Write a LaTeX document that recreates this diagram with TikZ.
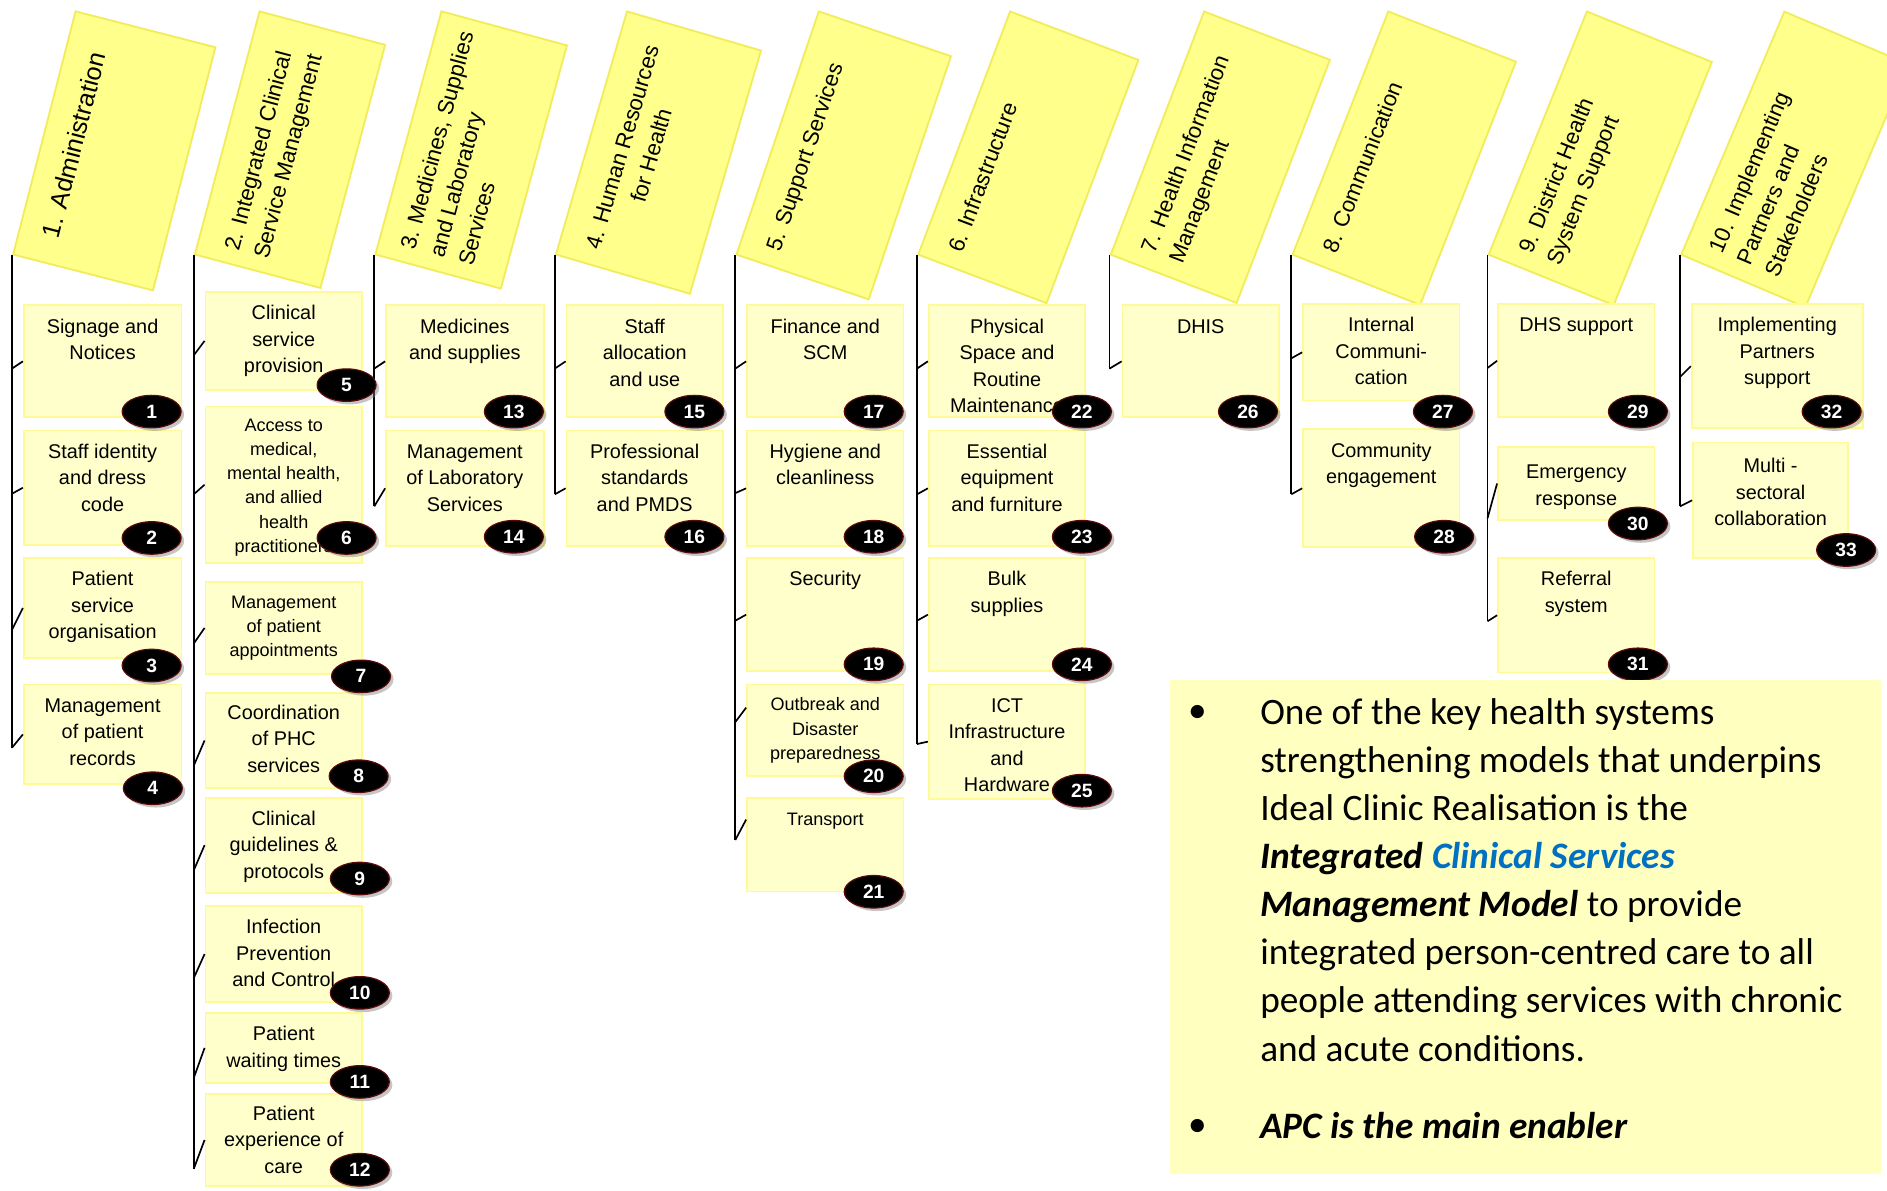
\documentclass[tikz,border=0pt]{standalone}
\usepackage{fontspec}
\setmainfont{Liberation Sans}
\newfontfamily\calfont{Carlito}
\usetikzlibrary{shapes.geometric,shadows,calc}

\definecolor{hdrfill}{RGB}{255,255,140}
\definecolor{hdrline}{RGB}{242,236,90}
\definecolor{boxfill}{RGB}{255,255,204}
\definecolor{boxline}{RGB}{255,250,150}
\definecolor{notefill}{RGB}{255,255,192}
\definecolor{numline}{RGB}{90,10,10}
\definecolor{keyblue}{RGB}{0,112,192}

% cell text: [first line height]{box height}{box width}{lines}
\newcommand{\cell}[4][23]{\parbox[t][#2pt][t]{#3pt}{\centering\rule{0pt}{#1pt}#4}}

\tikzset{
  hdr/.style={draw=hdrline, fill=hdrfill, line width=1.5pt, anchor=south west, inner sep=0pt},
  htext/.style={anchor=north west, inner sep=0pt, align=left, font=\fontsize{18.5}{25}\selectfont},
  item/.style={draw=boxline, fill=boxfill, line width=1.5pt, anchor=north west, inner sep=0pt, font=\fontsize{16.5}{22}\selectfont},
  small/.style={font=\fontsize{15}{20}\selectfont},
  num/.style={ellipse, fill=black, draw=numline, line width=1pt, minimum width=49, minimum height=27, inner sep=0pt, text=white,
    font=\bfseries\fontsize{16}{16}\selectfont, drop shadow={shadow xshift=2.5pt, shadow yshift=-2.5pt, opacity=0.45}},
  spine/.style={draw=black, line width=1.4pt},
  notetext/.style={anchor=north west, inner sep=0pt, align=left, font=\calfont\fontsize{31}{40}\selectfont},
  dot/.style={inner sep=0pt, font=\calfont\fontsize{31}{40}\selectfont}
}

\begin{document}
\begin{tikzpicture}[x=1pt, y=1pt]
        \path[use as bounding box, fill=white] (0,0) rectangle (1568,-989);

        % headers
        \node[hdr, rotate=-14.4, minimum width=120, minimum height=208.6] (h1) at (10,-212) {};
        \node[htext, rotate=75.6, font=\fontsize{21}{25}\selectfont] (ht1) at ($(h1.south west)+(75.6:22)+(-14.4:19)$) {1. Administration};
        \node[hdr, rotate=-14.9, minimum width=108, minimum height=209.0] (h2) at (161,-212) {};
        \node[htext, rotate=75.1] (ht2) at ($(h2.south west)+(75.1:12)+(-14.9:22)$) {2. Integrated Clinical\\Service Management};
        \node[hdr, rotate=-15.2, minimum width=108, minimum height=209.4] (h3) at (311,-212) {};
        \node[htext, rotate=74.8] (ht3) at ($(h3.south west)+(74.8:12)+(-15.2:18)$) {3. Medicines, Supplies\\and Laboratory\\Services};
        \node[hdr, rotate=-16.3, minimum width=116, minimum height=210.5] (h4) at (461,-212) {};
        \node[htext, rotate=73.7, align=center] (ht4) at ($(h4.south west)+(73.7:14)+(-16.3:22)$) {4. Human Resources\\for Health};
        \node[hdr, rotate=-18.7, minimum width=116, minimum height=213.3] (h5) at (611,-212) {};
        \node[htext, rotate=71.3] (ht5) at ($(h5.south west)+(71.3:14)+(-18.7:21)$) {5. Support Services};
        \node[hdr, rotate=-20.7, minimum width=114, minimum height=216.0] (h6) at (762,-212) {};
        \node[htext, rotate=69.3] (ht6) at ($(h6.south west)+(69.3:14)+(-20.7:21)$) {6. Infrastructure};
        \node[hdr, rotate=-21, minimum width=112, minimum height=216.4] (h7) at (922,-212) {};
        \node[htext, rotate=69] (ht7) at ($(h7.south west)+(69:14)+(-21:21)$) {7. Health Information\\Management};
        \node[hdr, rotate=-21.5, minimum width=114, minimum height=217.2] (h8) at (1073,-212) {};
        \node[htext, rotate=68.5] (ht8) at ($(h8.south west)+(68.5:14)+(-21.5:21)$) {8. Communication};
        \node[hdr, rotate=-22, minimum width=112, minimum height=217.9] (h9) at (1236,-212) {};
        \node[htext, rotate=68] (ht9) at ($(h9.south west)+(68:14)+(-22:21)$) {9. District Health\\System Support};
        \node[hdr, rotate=-23, minimum width=112, minimum height=219.4] (h10) at (1396,-212) {};
        \node[htext, rotate=67] (ht10) at ($(h10.south west)+(67:14)+(-23:19)$) {10. Implementing\\Partners and\\Stakeholders};

        % items
        \node[item] (b1) at (19,-253) {\cell{93}{131}{Signage and\\Notices}};
        \node[item] (b2) at (19,-357) {\cell{95}{131}{Staff identity\\and dress\\code}};
        \node[item] (b3) at (19,-463) {\cell{83}{131}{Patient\\service\\organisation}};
        \node[item] (b4) at (19,-568) {\cell{83}{131}{Management\\of patient\\records}};

        \node[item] (b5) at (170,-242) {\cell{81}{130}{Clinical\\service\\provision}};
        \node[item, small] (b6) at (170,-337) {\cell[21]{130}{130}{Access to\\medical,\\mental health,\\and allied\\health\\practitioners}};
        \node[item, small] (b7) at (170,-483) {\cell[22]{76}{130}{Management\\of patient\\appointments}};
        \node[item] (b8) at (170,-575) {\cell[22]{79}{130}{Coordination\\of PHC\\services}};
        \node[item] (b9) at (170,-662) {\cell{79}{130}{Clinical\\guidelines \&\\protocols}};
        \node[item] (b10) at (170,-752) {\cell{80}{130}{Infection\\Prevention\\and Control}};
        \node[item] (b11) at (170,-841) {\cell{58}{130}{Patient\\waiting times}};
        \node[item] (b12) at (170,-908) {\cell[22]{77}{130}{Patient\\experience of\\care}};

        \node[item] (b13) at (320,-253) {\cell{93}{131}{Medicines\\and supplies}};
        \node[item] (b14) at (320,-357) {\cell{96}{131}{Management\\of Laboratory\\Services}};

        \node[item] (b15) at (470,-253) {\cell{93}{130}{Staff\\allocation\\and use}};
        \node[item] (b16) at (470,-357) {\cell{96}{130}{Professional\\standards\\and PMDS}};

        \node[item] (b17) at (620,-253) {\cell{93}{130}{Finance and\\SCM}};
        \node[item] (b18) at (620,-357) {\cell{96}{130}{Hygiene and\\cleanliness}};
        \node[item] (b19) at (620,-463) {\cell{94}{130}{Security}};
        \node[item, small] (b20) at (620,-568) {\cell[22]{76}{130}{Outbreak and\\Disaster\\preparedness}};
        \node[item, small] (b21) at (620,-662) {\cell[23]{78}{130}{Transport}};

        \node[item] (b22) at (771,-253) {\cell{93}{130}{Physical\\Space and\\Routine\\Maintenance}};
        \node[item] (b23) at (771,-357) {\cell{96}{130}{Essential\\equipment\\and furniture}};
        \node[item] (b24) at (771,-463) {\cell{94}{130}{Bulk\\supplies}};
        \node[item] (b25) at (771,-568) {\cell{95}{130}{ICT\\Infrastructure\\and\\Hardware}};

        \node[item] (b26) at (932,-253) {\cell{93}{130}{DHIS}};

        \node[item] (b27) at (1082,-252) {\cell{80}{130}{Internal\\Communi-\\cation}};
        \node[item] (b28) at (1082,-356) {\cell{98}{130}{Community\\engagement}};

        \node[item] (b29) at (1244,-252) {\cell{94}{130}{DHS support}};
        \node[item] (b30) at (1244,-371) {\cell[26]{60}{130}{Emergency\\response}};
        \node[item] (b31) at (1244,-463) {\cell{95}{130}{Referral\\system}};

        \node[item] (b32) at (1405,-252) {\cell{103}{142}{Implementing\\Partners\\support}};
        \node[item] (b33) at (1406,-367) {\cell[25]{96}{129}{Multi -\\sectoral\\collaboration}};

        % spines
        \draw[spine] (h1.south west) -- ($(b4.west -| h1.south west)+(0,-11)$);
        \draw[spine] (h2.south west) -- ($(b12.west -| h2.south west)+(0,-24)$);
        \draw[spine] (h3.south west) -- ($(b14.west -| h3.south west)+(0,-15)$);
        \draw[spine] (h4.south west) -- ($(b16.west -| h4.south west)+(0,-5)$);
        \draw[spine] (h5.south west) -- ($(b21.north west -| h5.south west)+(0,-36)$);
        \draw[spine] (h6.south west) -- ($(b25.west -| h6.south west)+(0,-2)$);
        \draw[spine] (h7.south west) -- ($(b26.west -| h7.south west)+(0,-6)$);
        \draw[spine] (h8.south west) -- ($(b28.west -| h8.south west)+(0,-5)$);
        \draw[spine] (h9.south west) -- ($(b31.west -| h9.south west)+(0,-5)$);
        \draw[spine] (h10.south west) -- ($(b33.west -| h10.south west)+(0,-5)$);

        % ticks
        \draw[spine] ($(b1.west -| h1.south west)+(0,-6)$) -- (b1.west);
        \draw[spine] ($(b2.west -| h1.south west)+(0,-5)$) -- (b2.west);
        \draw[spine] ($(b3.west -| h1.south west)+(0,-18)$) -- (b3.west);
        \draw[spine] ($(b4.west -| h1.south west)+(0,-11)$) -- (b4.west);
        \draw[spine] ($(b5.west -| h2.south west)+(0,-12)$) -- (b5.west);
        \draw[spine] ($(b6.west -| h2.south west)+(0,-8)$) -- (b6.west);
        \draw[spine] ($(b7.west -| h2.south west)+(0,-13)$) -- (b7.west);
        \draw[spine] ($(b8.west -| h2.south west)+(0,-21)$) -- (b8.west);
        \draw[spine] ($(b9.west -| h2.south west)+(0,-21)$) -- (b9.west);
        \draw[spine] ($(b10.west -| h2.south west)+(0,-20)$) -- (b10.west);
        \draw[spine] ($(b11.west -| h2.south west)+(0,-25)$) -- (b11.west);
        \draw[spine] ($(b12.west -| h2.south west)+(0,-24)$) -- (b12.west);
        \draw[spine] ($(b13.west -| h3.south west)+(0,-6)$) -- (b13.west);
        \draw[spine] ($(b14.west -| h3.south west)+(0,-15)$) -- (b14.west);
        \draw[spine] ($(b15.west -| h4.south west)+(0,-6)$) -- (b15.west);
        \draw[spine] ($(b16.west -| h4.south west)+(0,-5)$) -- (b16.west);
        \draw[spine] ($(b17.west -| h5.south west)+(0,-6)$) -- (b17.west);
        \draw[spine] ($(b18.west -| h5.south west)+(0,-4)$) -- (b18.west);
        \draw[spine] ($(b19.west -| h5.south west)+(0,-5)$) -- (b19.west);
        \draw[spine] ($(b20.north west -| h5.south west)+(0,-32)$) -- ($(b20.north west)+(0,-20)$);
        \draw[spine] ($(b21.north west -| h5.south west)+(0,-36)$) -- ($(b21.north west)+(0,-19)$);
        \draw[spine] ($(b22.west -| h6.south west)+(0,-6)$) -- (b22.west);
        \draw[spine] ($(b23.west -| h6.south west)+(0,-5)$) -- (b23.west);
        \draw[spine] ($(b24.west -| h6.south west)+(0,-5)$) -- (b24.west);
        \draw[spine] ($(b25.west -| h6.south west)+(0,-2)$) -- (b25.west);
        \draw[spine] ($(b26.west -| h7.south west)+(0,-6)$) -- (b26.west);
        \draw[spine] ($(b27.west -| h8.south west)+(0,-5)$) -- (b27.west);
        \draw[spine] ($(b28.west -| h8.south west)+(0,-5)$) -- (b28.west);
        \draw[spine] ($(b29.west -| h9.south west)+(0,-6)$) -- (b29.west);
        \draw[spine] ($(b30.west -| h9.south west)+(0,-29)$) -- (b30.west);
        \draw[spine] ($(b31.west -| h9.south west)+(0,-5)$) -- (b31.west);
        \draw[spine] ($(b32.west -| h10.south west)+(0,-9)$) -- (b32.west);
        \draw[spine] ($(b33.west -| h10.south west)+(0,-5)$) -- (b33.west);

        % numbers
        \node[num] (n1) at (126,-342) {1};
        \node[num] (n2) at (126,-447) {2};
        \node[num] (n3) at (126,-553) {3};
        \node[num] (n4) at (127,-655) {4};
        \node[num] (n5) at (288,-320) {5};
        \node[num] (n6) at (288,-447) {6};
        \node[num] (n7) at (300,-562) {7};
        \node[num] (n8) at (298,-645) {8};
        \node[num] (n9) at (299,-730) {9};
        \node[num] (n10) at (299,-825) {10};
        \node[num] (n11) at (299,-899) {11};
        \node[num] (n12) at (299,-972) {12};
        \node[num] (n13) at (427,-342) {13};
        \node[num] (n14) at (427,-446) {14};
        \node[num] (n15) at (577,-342) {15};
        \node[num] (n16) at (577,-446) {16};
        \node[num] (n17) at (726,-342) {17};
        \node[num] (n18) at (726,-446) {18};
        \node[num] (n19) at (726,-552) {19};
        \node[num] (n20) at (726,-645) {20};
        \node[num] (n21) at (726,-741) {21};
        \node[num] (n22) at (899,-342) {22};
        \node[num] (n23) at (899,-446) {23};
        \node[num] (n24) at (899,-552) {24};
        \node[num] (n25) at (899,-657) {25};
        \node[num] (n26) at (1037,-342) {26};
        \node[num] (n27) at (1199,-342) {27};
        \node[num] (n28) at (1200,-446) {28};
        \node[num] (n29) at (1361,-342) {29};
        \node[num] (n30) at (1361,-435) {30};
        \node[num] (n31) at (1361,-552) {31};
        \node[num] (n32) at (1522,-342) {32};
        \node[num] (n33) at (1534,-457) {33};

        % note
        \node[fill=notefill, anchor=north west, minimum width=591, minimum height=410, inner sep=0pt] (note) at (972,-565) {};
        \node[dot] (d1) at (995,-593) {\textbullet};
        \node[notetext] (nt1) at (1047,-580) {One of the key health systems\\strengthening models that underpins\\Ideal Clinic Realisation is the\\\textbf{\textit{Integrated}} \textcolor{keyblue}{\textbf{\textit{Clinical Services}}}\\\textbf{\textit{Management Model}} to provide\\integrated person-centred care to all\\people attending services with chronic\\and acute conditions.};
        \node[dot] (d2) at (995,-937) {\textbullet};
        \node[notetext] (nt2) at (1047,-924) {\textbf{\textit{APC is the main enabler}}};
    \end{tikzpicture}
\end{document}
